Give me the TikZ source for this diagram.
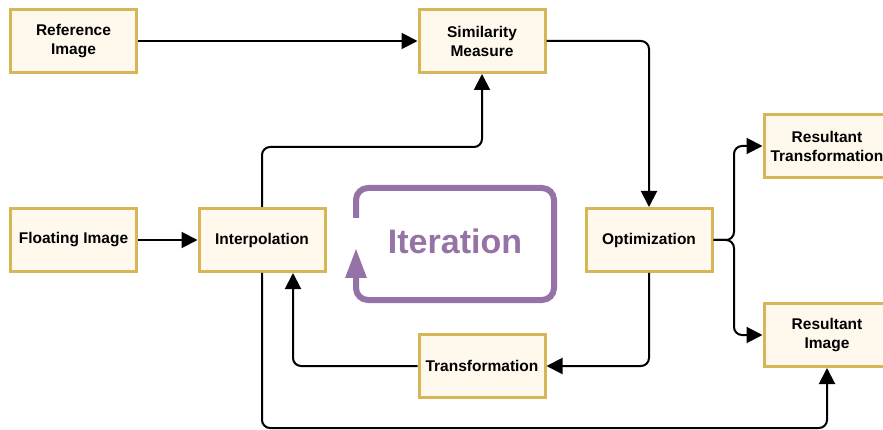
\documentclass[tikz,border=0pt]{standalone}
\usepackage{fontspec}
\setmainfont{Liberation Sans}
\usetikzlibrary{arrows.meta}
\definecolor{boxborder}{HTML}{D6B656}
\definecolor{boxfill}{HTML}{FFF8EC}
\definecolor{iterpurple}{HTML}{9673A6}
\tikzset{
  procbox/.style={draw=boxborder, fill=boxfill, line width=3pt, minimum width=126pt, minimum height=63pt, inner sep=0pt, align=center, font=\fontsize{15.5}{19}\selectfont\bfseries},
  conn/.style={line width=2pt, rounded corners=8pt, -{Triangle[length=16pt,width=16pt]}},
}
\begin{document}
\begin{tikzpicture}[x=1pt,y=-1pt]
\useasboundingbox (0,0) rectangle (883,430);
\node[procbox] (ref) at (73.5,41) {Reference\\Image};
\node[procbox] (sim) at (482,41) {Similarity\\Measure};
\node[procbox] (flt) at (73.5,240) {Floating Image};
\node[procbox] (interp) at (262,240) {Interpolation};
\node[procbox] (opt) at (649,240) {Optimization};
\node[procbox] (trans) at (482,366) {Transformation};
\node[procbox] (rt) at (827,146) {Resultant\\Transformation};
\node[procbox] (ri) at (827,335) {Resultant\\Image};
\draw[conn] (ref.east) -- (sim.west);
\draw[conn] (sim.east) -| (opt.north);
\draw[conn] (flt.east) -- (interp.west);
\draw[conn] (interp.north) |- (372,147) -| (sim.south);
\draw[conn] (opt.east) -- (734,240) |- (rt.west);
\draw[conn] (opt.east) -- (734,240) |- (ri.west);
\draw[conn] (opt.south) |- (trans.east);
\draw[conn] (trans.west) -| ([xshift=31pt]interp.south);
\draw[conn] (interp.south) |- (545,428) -| (ri.south);
\draw[iterpurple, line width=6pt, rounded corners=12pt, -{Triangle[length=30pt,width=20pt]}] (356,218) -- (356,188) -- (554,188) -- (554,300) -- (356,300) -- (356,248);
\node[text=iterpurple, font=\fontsize{34}{40}\selectfont\bfseries] (iter) at (455,241) {Iteration};
\end{tikzpicture}
\end{document}
